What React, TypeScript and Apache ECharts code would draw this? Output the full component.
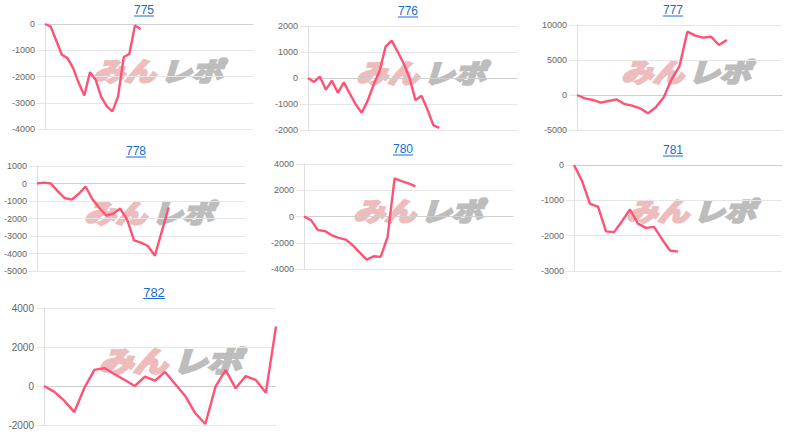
import React, { useEffect, useRef } from "react";
import * as echarts from "echarts";

// ---- data ----
const titles = ["775", "776", "777", "778", "780", "781", "782"];
const s775 = [0, -90, -630, -1170, -1300, -1680, -2250, -2720, -1840, -2120, -2780, -3140, -3330, -2760, -1260, -1140, -60, -190];
const s776 = [0, -150, 50, -450, -100, -570, -170, -600, -1020, -1340, -870, -250, 280, 1210, 1440, 1020, 570, 0, -850, -680, -1210, -1820, -1920];
const s777 = [0, -480, -710, -1100, -860, -620, -1290, -1520, -1900, -2620, -1760, -330, 2240, 4140, 9050, 8480, 8190, 8330, 7140, 7860];
const s778 = [0, 50, 0, -450, -830, -920, -600, -170, -900, -1400, -1830, -1720, -1430, -2060, -3250, -3380, -3570, -4130, -2740, -1360];
const s780 = [0, -280, -1040, -1100, -1430, -1630, -1760, -2190, -2750, -3290, -3030, -3080, -1550, 2900, 2700, 2520, 2290];
const s781 = [0, -450, -1100, -1180, -1880, -1900, -1590, -1260, -1660, -1780, -1750, -2100, -2420, -2450];
const s782 = [0, -290, -750, -1340, -100, 830, 920, 600, 310, 0, 480, 270, 720, 100, -510, -1400, -1950, -30, 820, -120, 510, 310, -340, 3050];
const seriesData = [s775, s776, s777, s778, s780, s781, s782];
const slotCounts = [38, 36, 27, 31, 31, 27, 24];
const yMin = [-4000, -2000, -5000, -5000, -4000, -3000, -2000];
const yMax = [0, 2000, 10000, 1000, 4000, 0, 4000];
const yStep = [1000, 1000, 5000, 1000, 2000, 1000, 2000];

// ---- layout (pixels) ----
const grids = [
  { x: 45, y: 24, w: 208, h: 105 },
  { x: 308, y: 26, w: 209, h: 104 },
  { x: 577, y: 25, w: 205, h: 105 },
  { x: 37, y: 166, w: 208, h: 105 },
  { x: 304, y: 164, w: 209, h: 105 },
  { x: 574, y: 165, w: 208, h: 106 },
  { x: 44, y: 308, w: 232, h: 117 },
];
const titlePos = [
  { x: 144, y: 10, s: 12 },
  { x: 408, y: 11, s: 12 },
  { x: 673, y: 10, s: 12 },
  { x: 136, y: 151, s: 12 },
  { x: 403, y: 149, s: 12 },
  { x: 673, y: 150, s: 12 },
  { x: 154, y: 292, s: 13 },
];
const markPos = [
  { x: 158, y: 70, k: 1 },
  { x: 421, y: 72, k: 1 },
  { x: 686, y: 71, k: 1 },
  { x: 149, y: 212, k: 1 },
  { x: 418, y: 210, k: 1 },
  { x: 691, y: 210, k: 1 },
  { x: 170, y: 359, k: 1.1 },
];

const LINE = "#ff5274";
const FONT = '"Liberation Sans", Arial, sans-serif';
const MARK_FONT = `italic bold 26px "Noto Sans CJK JP"`;

export default function App() {
  const ref = useRef<HTMLDivElement>(null);
  useEffect(() => {
    if (!ref.current) return;
    const chart = echarts.init(ref.current, undefined, { renderer: "svg" });
    const graphic: any[] = [];
    titles.forEach((t, i) => {
      const p = titlePos[i];
      const tw = t.length * p.s * 0.556;
      graphic.push({
        type: "text",
        x: p.x,
        y: p.y,
        style: {
          text: t,
          font: `${p.s}px ${FONT}`,
          fill: "#1a6ccf",
          textAlign: "center",
          textVerticalAlign: "middle",
          align: "center",
          verticalAlign: "middle",
        },
      });
      graphic.push({
        type: "line",
        shape: { x1: p.x - tw / 2, y1: p.y + p.s * 0.5, x2: p.x + tw / 2, y2: p.y + p.s * 0.5 },
        style: { stroke: "#1a6ccf", lineWidth: 1 },
      });
      const m = markPos[i];
      graphic.push({
        type: "group",
        x: m.x,
        y: m.y,
        scaleX: 1.2 * m.k,
        scaleY: m.k,
        z: 0,
        children: [
          {
            type: "text",
            x: -2,
            y: 0,
            skewX: 0,
            style: {
              text: "みん",
              font: MARK_FONT,
              fill: "#eebcbc",
              stroke: "#eebcbc",
              lineWidth: 2.5,
              textAlign: "right",
              align: "right",
              textVerticalAlign: "middle",
              verticalAlign: "middle",
            },
          },
          {
            type: "text",
            x: 2,
            y: 0,
            style: {
              text: "レポ",
              font: MARK_FONT,
              fill: "#bdbdbd",
              stroke: "#bdbdbd",
              lineWidth: 2.5,
              textAlign: "left",
              align: "left",
              textVerticalAlign: "middle",
              verticalAlign: "middle",
            },
          },
        ],
      });
    });

    const option: any = {
      animation: false,
      backgroundColor: "#ffffff",
      grid: grids.map((g) => ({ left: g.x, top: g.y, width: g.w, height: g.h })),
      xAxis: grids.map((_, i) => ({
        type: "category",
        gridIndex: i,
        boundaryGap: false,
        data: Array.from({ length: slotCounts[i] }, (_, k) => String(k + 1)),
        axisLabel: { show: false },
        axisTick: { show: false },
        axisLine: { show: true, onZero: true, lineStyle: { color: "#cfcfcf", width: 1 } },
        splitLine: { show: false },
      })),
      yAxis: grids.map((_, i) => ({
        type: "value",
        gridIndex: i,
        min: yMin[i],
        max: yMax[i],
        interval: yStep[i],
        axisLine: { show: true, lineStyle: { color: "#dedede" } },
        axisTick: { show: true, length: 8, lineStyle: { color: "#e6e6e6" } },
        axisLabel: {
          color: "#666",
          fontSize: i === 6 ? 10 : 9,
          margin: 10,
          fontFamily: FONT,
          formatter: (v: number) => String(v),
        },
        splitLine: { show: true, lineStyle: { color: "#e6e6e6" } },
      })),
      series: seriesData.map((d, i) => ({
        type: "line",
        xAxisIndex: i,
        yAxisIndex: i,
        data: d,
        showSymbol: false,
        symbol: "none",
        z: 10,
        lineStyle: { color: LINE, width: 2.4 },
        itemStyle: { color: LINE },
      })),
      graphic,
    };
    chart.setOption(option);
    return () => chart.dispose();
  }, []);
  return (
    <div
      ref={ref}
      style={{ position: "fixed", left: 0, top: 0, width: 800, height: 437 }}
    />
  );
}
